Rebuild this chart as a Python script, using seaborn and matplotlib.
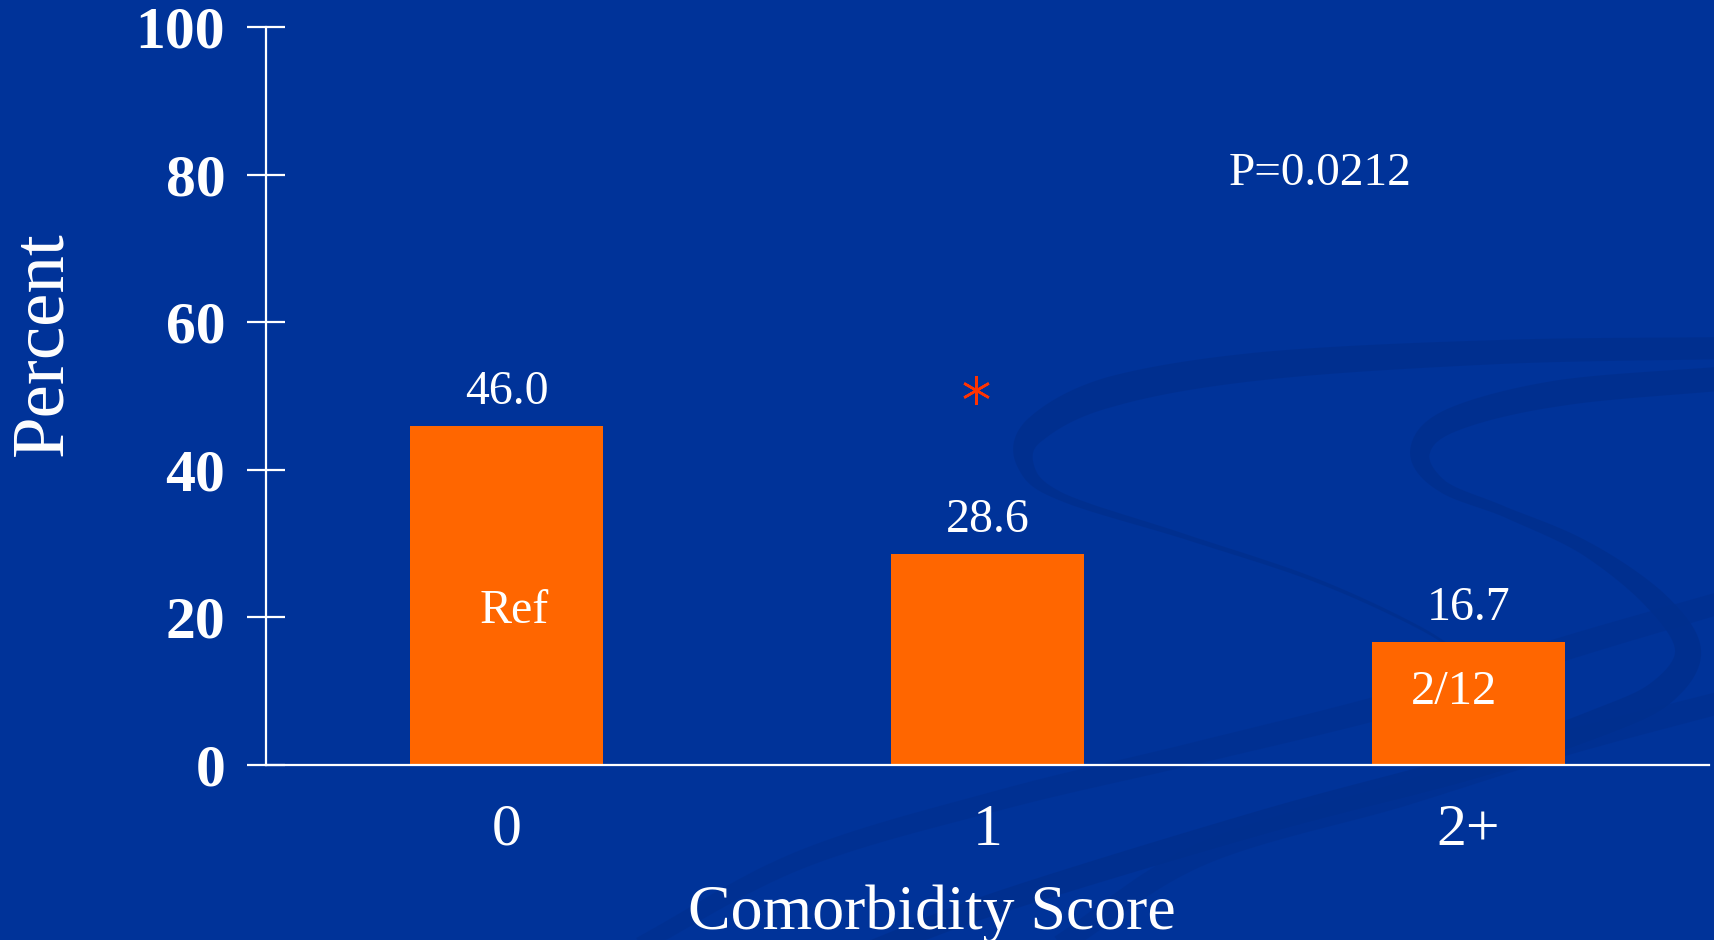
import matplotlib
matplotlib.use("Agg")
import matplotlib.pyplot as plt
from matplotlib.patches import Polygon
import numpy as np
import seaborn as sns
import pandas as pd

# Data
categories = ["0", "1", "2+"]
percent = [46.0, 28.6, 16.7]
inner_labels = ["Ref", "", "2/12"]
p_value_text = "P=0.0212"
y_ticks = [0, 20, 40, 60, 80, 100]

BG = "#003399"
SWOOSH = "#002F8E"
BAR = "#FF6600"
STAR = "#FF3300"
SERIF = ["Liberation Serif", "DejaVu Serif"]

W, H = 1714, 940

sns.set_theme(style="white")
plt.rcParams["font.family"] = SERIF
plt.rcParams["text.color"] = "white"

fig = plt.figure(figsize=(W / 100, H / 100), dpi=100, facecolor=BG)


def catmull_rom(pts, n=30):
    pts = np.asarray(pts, dtype=float)
    ext = np.vstack([2 * pts[0] - pts[1], pts, 2 * pts[-1] - pts[-2]])
    out = []
    for i in range(1, len(ext) - 2):
        p0, p1, p2, p3 = ext[i - 1], ext[i], ext[i + 1], ext[i + 2]
        t = np.linspace(0, 1, n, endpoint=False)[:, None]
        out.append(0.5 * ((2 * p1) + (-p0 + p2) * t
                          + (2 * p0 - 5 * p1 + 4 * p2 - p3) * t ** 2
                          + (-p0 + 3 * p1 - 3 * p2 + p3) * t ** 3))
    out.append(pts[-1:])
    return np.vstack(out)


def ribbon(pts, widths, alpha=0.85):
    """Tapered background band along a smooth centerline (pixel coords)."""
    c = catmull_rom(pts)
    w = np.interp(np.linspace(0, 1, len(c)), np.linspace(0, 1, len(widths)),
                  widths)
    d = np.gradient(c, axis=0)
    nrm = np.stack([-d[:, 1], d[:, 0]], axis=1)
    nrm /= np.linalg.norm(nrm, axis=1, keepdims=True) + 1e-9
    a = c + nrm * w[:, None] / 2
    b = c - nrm * w[:, None] / 2
    poly = np.vstack([a, b[::-1]])
    poly = np.column_stack([poly[:, 0] / W, 1 - poly[:, 1] / H])
    fig.patches.append(Polygon(poly, closed=True, transform=fig.transFigure,
                               facecolor=SWOOSH, edgecolor="none",
                               alpha=alpha, zorder=-10))


# Decorative background swooshes
ribbon([(1730, 348), (1500, 352), (1263, 366), (1110, 392), (1035, 430),
        (1026, 466), (1062, 497), (1186, 537), (1315, 580), (1420, 628),
        (1475, 665)], [22, 24, 28, 30, 26, 16, 8, 5, 4, 3, 2])
ribbon([(1730, 378), (1560, 393), (1452, 420), (1420, 452), (1442, 486),
        (1505, 512), (1585, 548), (1655, 600), (1688, 650), (1662, 692),
        (1600, 722), (1472, 766), (1263, 822), (1000, 902), (860, 955)],
       [24, 26, 24, 20, 12, 10, 14, 22, 26, 28, 28, 26, 24, 22, 20])
ribbon([(1730, 600), (1560, 650), (1400, 702), (1200, 752), (1000, 800),
        (800, 860), (640, 945)], [22, 24, 24, 22, 20, 18, 16], alpha=0.6)
ribbon([(1730, 700), (1560, 745), (1400, 795), (1200, 855), (1060, 945)],
       [22, 24, 24, 22, 20], alpha=0.6)

ax = fig.add_axes([266 / W, 1 - 765 / H, (1709 - 266) / W, (765 - 27) / H])
ax.set_facecolor("none")
ax.set_zorder(5)

df = pd.DataFrame({"score": categories, "percent": percent})
sns.barplot(data=df, x="score", y="percent", color=BAR, saturation=1,
            width=0.4, ax=ax, linewidth=0)

ax.set_xlim(-0.5, 2.5)
ax.set_ylim(0, 100)
ax.set_yticks(y_ticks)
ax.set_yticklabels([str(t) for t in y_ticks], fontsize=43, fontweight="bold",
                   color="white")
ax.set_xticks(range(len(categories)))
ax.set_xticklabels(categories, fontsize=43, color="white")
ax.tick_params(axis="y", left=True, direction="inout", length=27.4,
               width=1.6, color="white", pad=15.6)
ax.tick_params(axis="x", bottom=False, length=0, pad=28)

for side in ["top", "right"]:
    ax.spines[side].set_visible(False)
for side in ["left", "bottom"]:
    ax.spines[side].set_color("white")
    ax.spines[side].set_linewidth(1.6)
ax.set_xlabel("")
ax.set_ylabel("")

# Value labels above the bars
for i, v in enumerate(percent):
    ax.annotate(f"{v:.1f}", xy=(i, v), xytext=(0, 15.8),
                textcoords="offset points", ha="center", va="baseline",
                fontsize=34.5, color="white")

# Text inside bars
ax.text(0.015, 19.2, inner_labels[0], ha="center", va="baseline",
        fontsize=34.5, color="white")
ax.text(1.97, 8.2, inner_labels[2], ha="center", va="baseline",
        fontsize=35, color="white")

# Significance marker for score 1
star_x, star_y = 0.976, 50.8
ax.plot([star_x], [star_y], linestyle="none", marker=(6, 2, 0),
        markersize=20.5, markeredgewidth=1.8, color=STAR)

# P value
ax.text(1.692, 80.1, p_value_text, ha="center", va="center",
        fontsize=34, color="white")

# Axis titles
fig.text(932 / W, 1 - 929 / H, "Comorbidity Score", ha="center",
         va="baseline", fontsize=46, color="white")
fig.text(44 / W, 1 - 344 / H, "Percent", ha="center", va="center",
         rotation=90, fontsize=54, color="white")

fig.savefig("out.png", dpi=100, facecolor=BG)
